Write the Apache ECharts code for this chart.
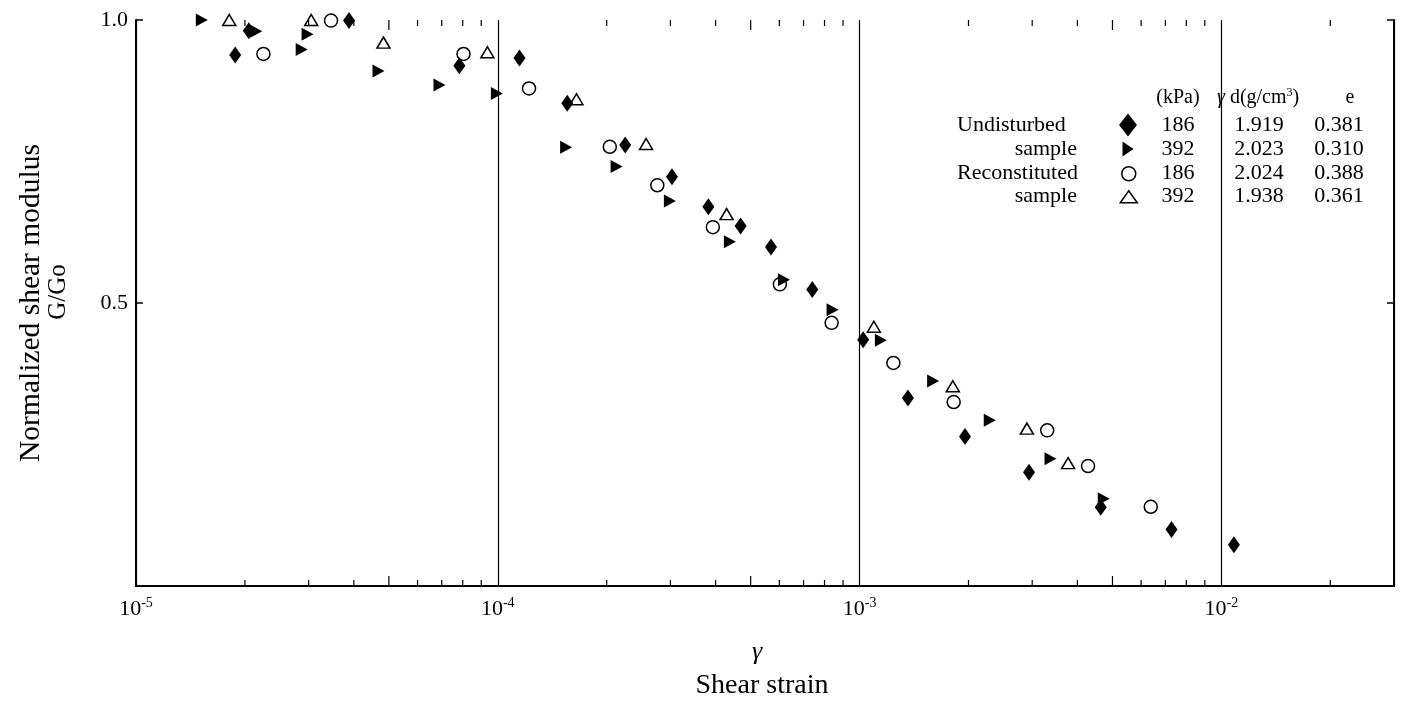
<!DOCTYPE html>
<html>
<head>
<meta charset="utf-8">
<script src="https://cdn.jsdelivr.net/npm/echarts@6/dist/echarts.min.js"></script>
<style>
html,body{margin:0;padding:0;background:#fff;}
#chart{width:1404px;height:703px;}
</style>
</head>
<body>
<div id="chart"></div>
<script>
// ---- data: [shear strain, G/Go] ----
const undisturbed186 = [
  [1.88e-5, 0.938], [2.05e-5, 0.981], [3.88e-5, 0.999], [7.83e-5, 0.919],
  [1.148e-4, 0.933], [1.556e-4, 0.853], [2.25e-4, 0.779], [3.03e-4, 0.723],
  [3.82e-4, 0.670], [4.69e-4, 0.636], [5.69e-4, 0.599], [7.4e-4, 0.524],
  [1.023e-3, 0.435], [1.36e-3, 0.332], [1.956e-3, 0.264], [2.94e-3, 0.201],
  [4.64e-3, 0.139], [7.28e-3, 0.100], [1.083e-2, 0.073]
];
const undisturbed392 = [
  [1.52e-5, 1.0], [2.15e-5, 0.980], [2.87e-5, 0.948], [2.98e-5, 0.975],
  [4.68e-5, 0.910], [6.9e-5, 0.885], [9.94e-5, 0.870], [1.545e-4, 0.775],
  [2.13e-4, 0.741], [2.99e-4, 0.680], [4.38e-4, 0.608], [6.18e-4, 0.541],
  [8.42e-4, 0.488], [1.145e-3, 0.434], [1.597e-3, 0.362], [2.29e-3, 0.293],
  [3.37e-3, 0.225], [4.73e-3, 0.154]
];
const reconstituted186 = [
  [2.25e-5, 0.940], [3.46e-5, 0.999], [8.04e-5, 0.940], [1.22e-4, 0.879],
  [2.04e-4, 0.776], [2.76e-4, 0.708], [3.93e-4, 0.634], [6.02e-4, 0.533],
  [8.37e-4, 0.465], [1.24e-3, 0.394], [1.82e-3, 0.325], [3.3e-3, 0.275],
  [4.28e-3, 0.212], [6.38e-3, 0.140]
];
const reconstituted392 = [
  [1.81e-5, 1.0], [3.05e-5, 1.0], [4.83e-5, 0.960], [9.36e-5, 0.943],
  [1.65e-4, 0.860], [2.57e-4, 0.781], [4.29e-4, 0.657], [1.095e-3, 0.458],
  [1.81e-3, 0.353], [2.9e-3, 0.278], [3.77e-3, 0.217]
];
const seriesNames = ['Undisturbed 186', 'Undisturbed 392', 'Reconstituted 186', 'Reconstituted 392'];
const pressures = ['186', '392', '186', '392'];
const dryDensities = ['1.919', '2.023', '2.024', '1.938'];
const voidRatios = ['0.381', '0.310', '0.388', '0.361'];
const groupLabels = [['Undisturbed', 'sample'], ['Reconstituted', 'sample']];
const minorTicks = [
  2e-5, 3e-5, 4e-5, 5e-5, 6e-5, 7e-5, 8e-5, 9e-5,
  2e-4, 3e-4, 4e-4, 5e-4, 6e-4, 7e-4, 8e-4, 9e-4,
  2e-3, 3e-3, 4e-3, 5e-3, 6e-3, 7e-3, 8e-3, 9e-3,
  2e-2
];
const xMin = 1e-5, xMax = 0.03;

const FONT = '"Liberation Serif", "DejaVu Serif", serif';
const chart = echarts.init(document.getElementById('chart'), null, {renderer: 'canvas'});

function isPow10(v) {
  const e = Math.round(Math.log10(v));
  return Math.abs(v - Math.pow(10, e)) / v < 1e-6 ? e : null;
}

// table layout
const rowY = [125, 149, 173, 196];
const headerY = 98;
const iconX = 1128;
const legendIcons = [
  {w: 18, h: 23, icon: 'diamond'},
  {w: 11, h: 15, icon: 'path://M0,0 L11,7.5 L0,15 Z'},
  {w: 14, h: 14, icon: 'circle'},
  {w: 17, h: 12, icon: 'triangle'}
];

const graphics = [
  {type: 'text', x: 31, y: 303, rotation: Math.PI / 2,
   style: {text: 'Normalized shear modulus', fontFamily: FONT, fontSize: 29.5, fill: '#000', align: 'center', verticalAlign: 'middle'}},
  {type: 'text', x: 58, y: 292, rotation: Math.PI / 2,
   style: {text: 'G/Go', fontFamily: FONT, fontSize: 25, fill: '#000', align: 'center', verticalAlign: 'middle'}},
  {type: 'text', x: 757, y: 652,
   style: {text: 'γ', fontFamily: FONT, fontSize: 26, fontStyle: 'italic', fill: '#000', align: 'center', verticalAlign: 'middle'}},
  {type: 'text', x: 762, y: 686,
   style: {text: 'Shear strain', fontFamily: FONT, fontSize: 28, fill: '#000', align: 'center', verticalAlign: 'middle'}},
  {type: 'text', x: 1178, y: headerY,
   style: {text: '(kPa)', fontFamily: FONT, fontSize: 20, fill: '#000', align: 'center', verticalAlign: 'middle'}},
  {type: 'text', x: 1217, y: headerY,
   style: {text: '{g|γ}{n| d(g/cm}{s|3}{n|)}', fill: '#000', align: 'left', verticalAlign: 'middle',
     rich: {
       g: {fontFamily: FONT, fontSize: 20, fontStyle: 'italic', fill: '#000'},
       n: {fontFamily: FONT, fontSize: 20, fill: '#000'},
       s: {fontFamily: FONT, fontSize: 12, fill: '#000', padding: [0, 0, 10, 0]}
     }}},
  {type: 'text', x: 1350, y: headerY,
   style: {text: 'e', fontFamily: FONT, fontSize: 20, fill: '#000', align: 'center', verticalAlign: 'middle'}}
];
groupLabels.forEach((g, gi) => {
  graphics.push({type: 'text', x: 957, y: rowY[gi * 2],
    style: {text: g[0], fontFamily: FONT, fontSize: 22, fill: '#000', align: 'left', verticalAlign: 'middle'}});
  graphics.push({type: 'text', x: 1077, y: rowY[gi * 2 + 1],
    style: {text: g[1], fontFamily: FONT, fontSize: 22, fill: '#000', align: 'right', verticalAlign: 'middle'}});
});
for (let i = 0; i < 4; i++) {
  graphics.push({type: 'text', x: 1178, y: rowY[i],
    style: {text: pressures[i], fontFamily: FONT, fontSize: 22, fill: '#000', align: 'center', verticalAlign: 'middle'}});
  graphics.push({type: 'text', x: 1259, y: rowY[i],
    style: {text: dryDensities[i], fontFamily: FONT, fontSize: 22, fill: '#000', align: 'center', verticalAlign: 'middle'}});
  graphics.push({type: 'text', x: 1339, y: rowY[i],
    style: {text: voidRatios[i], fontFamily: FONT, fontSize: 22, fill: '#000', align: 'center', verticalAlign: 'middle'}});
}

const legends = seriesNames.map((n, i) => ({
  data: [{name: n, icon: legendIcons[i].icon}],
  left: iconX - legendIcons[i].w / 2,
  top: rowY[i] - legendIcons[i].h / 2,
  padding: 0,
  itemWidth: legendIcons[i].w,
  itemHeight: legendIcons[i].h,
  symbolKeepAspect: false,
  selectedMode: false,
  formatter: () => '',
  textStyle: {fontSize: 10},
  itemStyle: {borderWidth: 1.5, opacity: 1}
}));

const option = {
  backgroundColor: '#fff',
  animation: false,
  grid: {left: 136, top: 20, width: 1258, height: 566, show: false},
  legend: legends,
  graphic: graphics,
  xAxis: [
    {
      type: 'log', logBase: 10, min: xMin, max: xMax, position: 'bottom',
      axisLine: {show: true, lineStyle: {color: '#000', width: 2}},
      axisTick: {show: false},
      splitLine: {show: true, lineStyle: {color: '#000', width: 1.2}},
      minorTick: {show: false}, minorSplitLine: {show: false},
      axisLabel: {
        margin: 10, showMaxLabel: false,
        formatter: v => { const e = isPow10(v); return e === null ? '' : '{b|10}{s|' + e + '}'; },
        rich: {
          b: {fontFamily: FONT, fontSize: 22, color: '#000'},
          s: {fontFamily: FONT, fontSize: 14, color: '#000', padding: [0, 0, 12, 0]}
        }
      }
    },
    {
      type: 'log', logBase: 10, min: xMin, max: xMax, position: 'top',
      axisLine: {show: true, lineStyle: {color: '#000', width: 1.5}},
      axisTick: {show: false}, axisLabel: {show: false}, splitLine: {show: false}
    }
  ],
  yAxis: [
    {
      type: 'value', min: 0, max: 1, interval: 0.5, position: 'left',
      axisLine: {show: true, lineStyle: {color: '#000', width: 2}},
      axisTick: {show: true, inside: true, length: 7, lineStyle: {color: '#000', width: 1.5}},
      splitLine: {show: false},
      axisLabel: {margin: 8, color: '#000', fontFamily: FONT, fontSize: 22,
        formatter: v => v === 0 ? '' : v.toFixed(1)}
    },
    {
      type: 'value', min: 0, max: 1, interval: 0.5, position: 'right',
      axisLine: {show: true, lineStyle: {color: '#000', width: 2}},
      axisTick: {show: true, inside: true, length: 7, lineStyle: {color: '#000', width: 1.5}},
      splitLine: {show: false}, axisLabel: {show: false}
    }
  ],
  series: [
    {
      type: 'custom', name: 'minor ticks', silent: true, clip: false,
      xAxisIndex: 0, yAxisIndex: 0,
      data: minorTicks.map(v => [v, 0]),
      encode: {x: 0, y: 1},
      renderItem: (params, api) => {
        const v = api.value(0);
        const m = v / Math.pow(10, Math.floor(Math.log10(v) + 1e-9));
        const len = Math.abs(m - 5) < 0.01 ? 10 : 6;
        const b = api.coord([v, 0]);
        const t = api.coord([v, 1]);
        return {type: 'group', children: [
          {type: 'line', shape: {x1: b[0], y1: b[1], x2: b[0], y2: b[1] - len}, style: {stroke: '#000', lineWidth: 1.2}},
          {type: 'line', shape: {x1: t[0], y1: t[1], x2: t[0], y2: t[1] + len}, style: {stroke: '#000', lineWidth: 1.2}}
        ]};
      }
    },
    {
      type: 'scatter', name: seriesNames[0], data: undisturbed186, clip: false,
      symbol: 'diamond', symbolSize: [12, 17],
      itemStyle: {color: '#000', opacity: 1}
    },
    {
      type: 'scatter', name: seriesNames[1], data: undisturbed392, clip: false,
      symbol: 'triangle', symbolRotate: -90, symbolSize: [13, 12],
      itemStyle: {color: '#000', opacity: 1}
    },
    {
      type: 'scatter', name: seriesNames[2], data: reconstituted186, clip: false,
      symbol: 'circle', symbolSize: 13,
      itemStyle: {color: 'rgba(255,255,255,0)', borderColor: '#000', borderWidth: 1.5, opacity: 1}
    },
    {
      type: 'scatter', name: seriesNames[3], data: reconstituted392, clip: false,
      symbol: 'triangle', symbolSize: [13, 11],
      itemStyle: {color: 'rgba(255,255,255,0)', borderColor: '#000', borderWidth: 1.5, opacity: 1}
    }
  ]
};
chart.setOption(option);
</script>
</body>
</html>
